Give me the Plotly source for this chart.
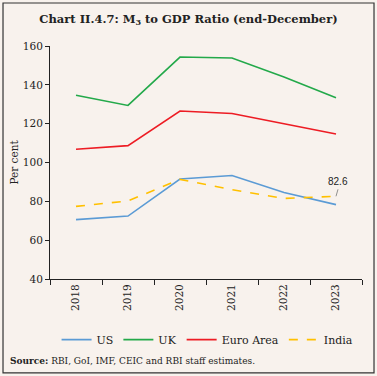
import plotly.graph_objects as go

years = [2018, 2019, 2020, 2021, 2022, 2023]
year_labels = ["2018", "2019", "2020", "2021", "2022", "2023"]
us = [70.6, 72.4, 91.5, 93.3, 84.5, 78.3]
uk = [134.6, 129.4, 154.3, 153.8, 144.0, 133.4]
euro = [106.8, 108.7, 126.5, 125.2, 120.0, 114.7]
india = [77.4, 80.2, 91.3, 86.0, 81.5, 82.6]

BG = "#F8F2ED"
FONT = "DejaVu Serif"

fig = go.Figure()
fig.add_trace(go.Scatter(x=years, y=us, name="US", mode="lines",
                         line=dict(color="#5B9BD5", width=1.6)))
fig.add_trace(go.Scatter(x=years, y=uk, name="UK", mode="lines",
                         line=dict(color="#23A94A", width=1.6)))
fig.add_trace(go.Scatter(x=years, y=euro, name="Euro Area", mode="lines",
                         line=dict(color="#ED1C24", width=1.6)))
fig.add_trace(go.Scatter(x=years, y=india, name="India", mode="lines",
                         line=dict(color="#FFC000", width=1.6, dash="dash")))

fig.add_annotation(x=years[-1], y=india[-1], text="82.6", showarrow=True,
                   arrowhead=0, arrowwidth=0.8, arrowcolor="#777777",
                   ax=2, ay=-7, font=dict(family="Liberation Sans", size=10, color="#222222"),
                   yanchor="bottom")

fig.update_layout(
    width=377, height=376,
    paper_bgcolor=BG, plot_bgcolor=BG,
    margin=dict(l=50, r=15, t=46, b=97),
    font=dict(family=FONT, size=10.5, color="#222222"),
    title=dict(text="<b>Chart II.4.7: M<sub>3</sub> to GDP Ratio (end-December)</b>",
               x=0.5, xanchor="center", y=0.95, yanchor="middle",
               font=dict(family=FONT, size=11.5, color="#222222")),
    showlegend=True,
    legend=dict(orientation="h", x=0.505, xanchor="center", y=-0.26, yanchor="middle",
                font=dict(family=FONT, size=11), bgcolor="rgba(0,0,0,0)",
                itemwidth=30, tracegroupgap=0),
    xaxis=dict(range=[2017.5, 2023.5], tickvals=years, ticktext=year_labels,
               showgrid=False, showline=True, linecolor="#222222", automargin=False,
               linewidth=1, ticks="", tickangle=-90, zeroline=False,
               minor=dict(ticks="outside", tick0=2017.5, dtick=1, ticklen=5,
                          tickcolor="#222222", showgrid=False),
               tickfont=dict(family=FONT, size=10.5)),
    yaxis=dict(range=[40, 160], dtick=20, showgrid=False, showline=True,
               linecolor="#222222", linewidth=1, ticks="outside", ticklen=4,
               tickcolor="#222222", zeroline=False, automargin=False,
               title=dict(text="Per cent", font=dict(family=FONT, size=10.5), standoff=2),
               tickfont=dict(family=FONT, size=10.5)),
)

fig.add_annotation(xref="paper", yref="paper", x=-0.135, y=-0.352, xanchor="left",
                   yanchor="middle", showarrow=False,
                   text="<b>Source:</b> RBI, GoI, IMF, CEIC and RBI staff estimates.",
                   font=dict(family=FONT, size=9, color="#222222"))

fig.add_shape(type="rect", xref="paper", yref="paper",
              x0=-0.1506, x1=1.0385, y0=-0.403, y1=1.1845,
              line=dict(color="#333333", width=1.2), fillcolor="rgba(0,0,0,0)",
              layer="above")

fig.write_html("out.html", config={"displayModeBar": False},
               post_script="document.body.style.margin='0';document.body.style.padding='0';")
